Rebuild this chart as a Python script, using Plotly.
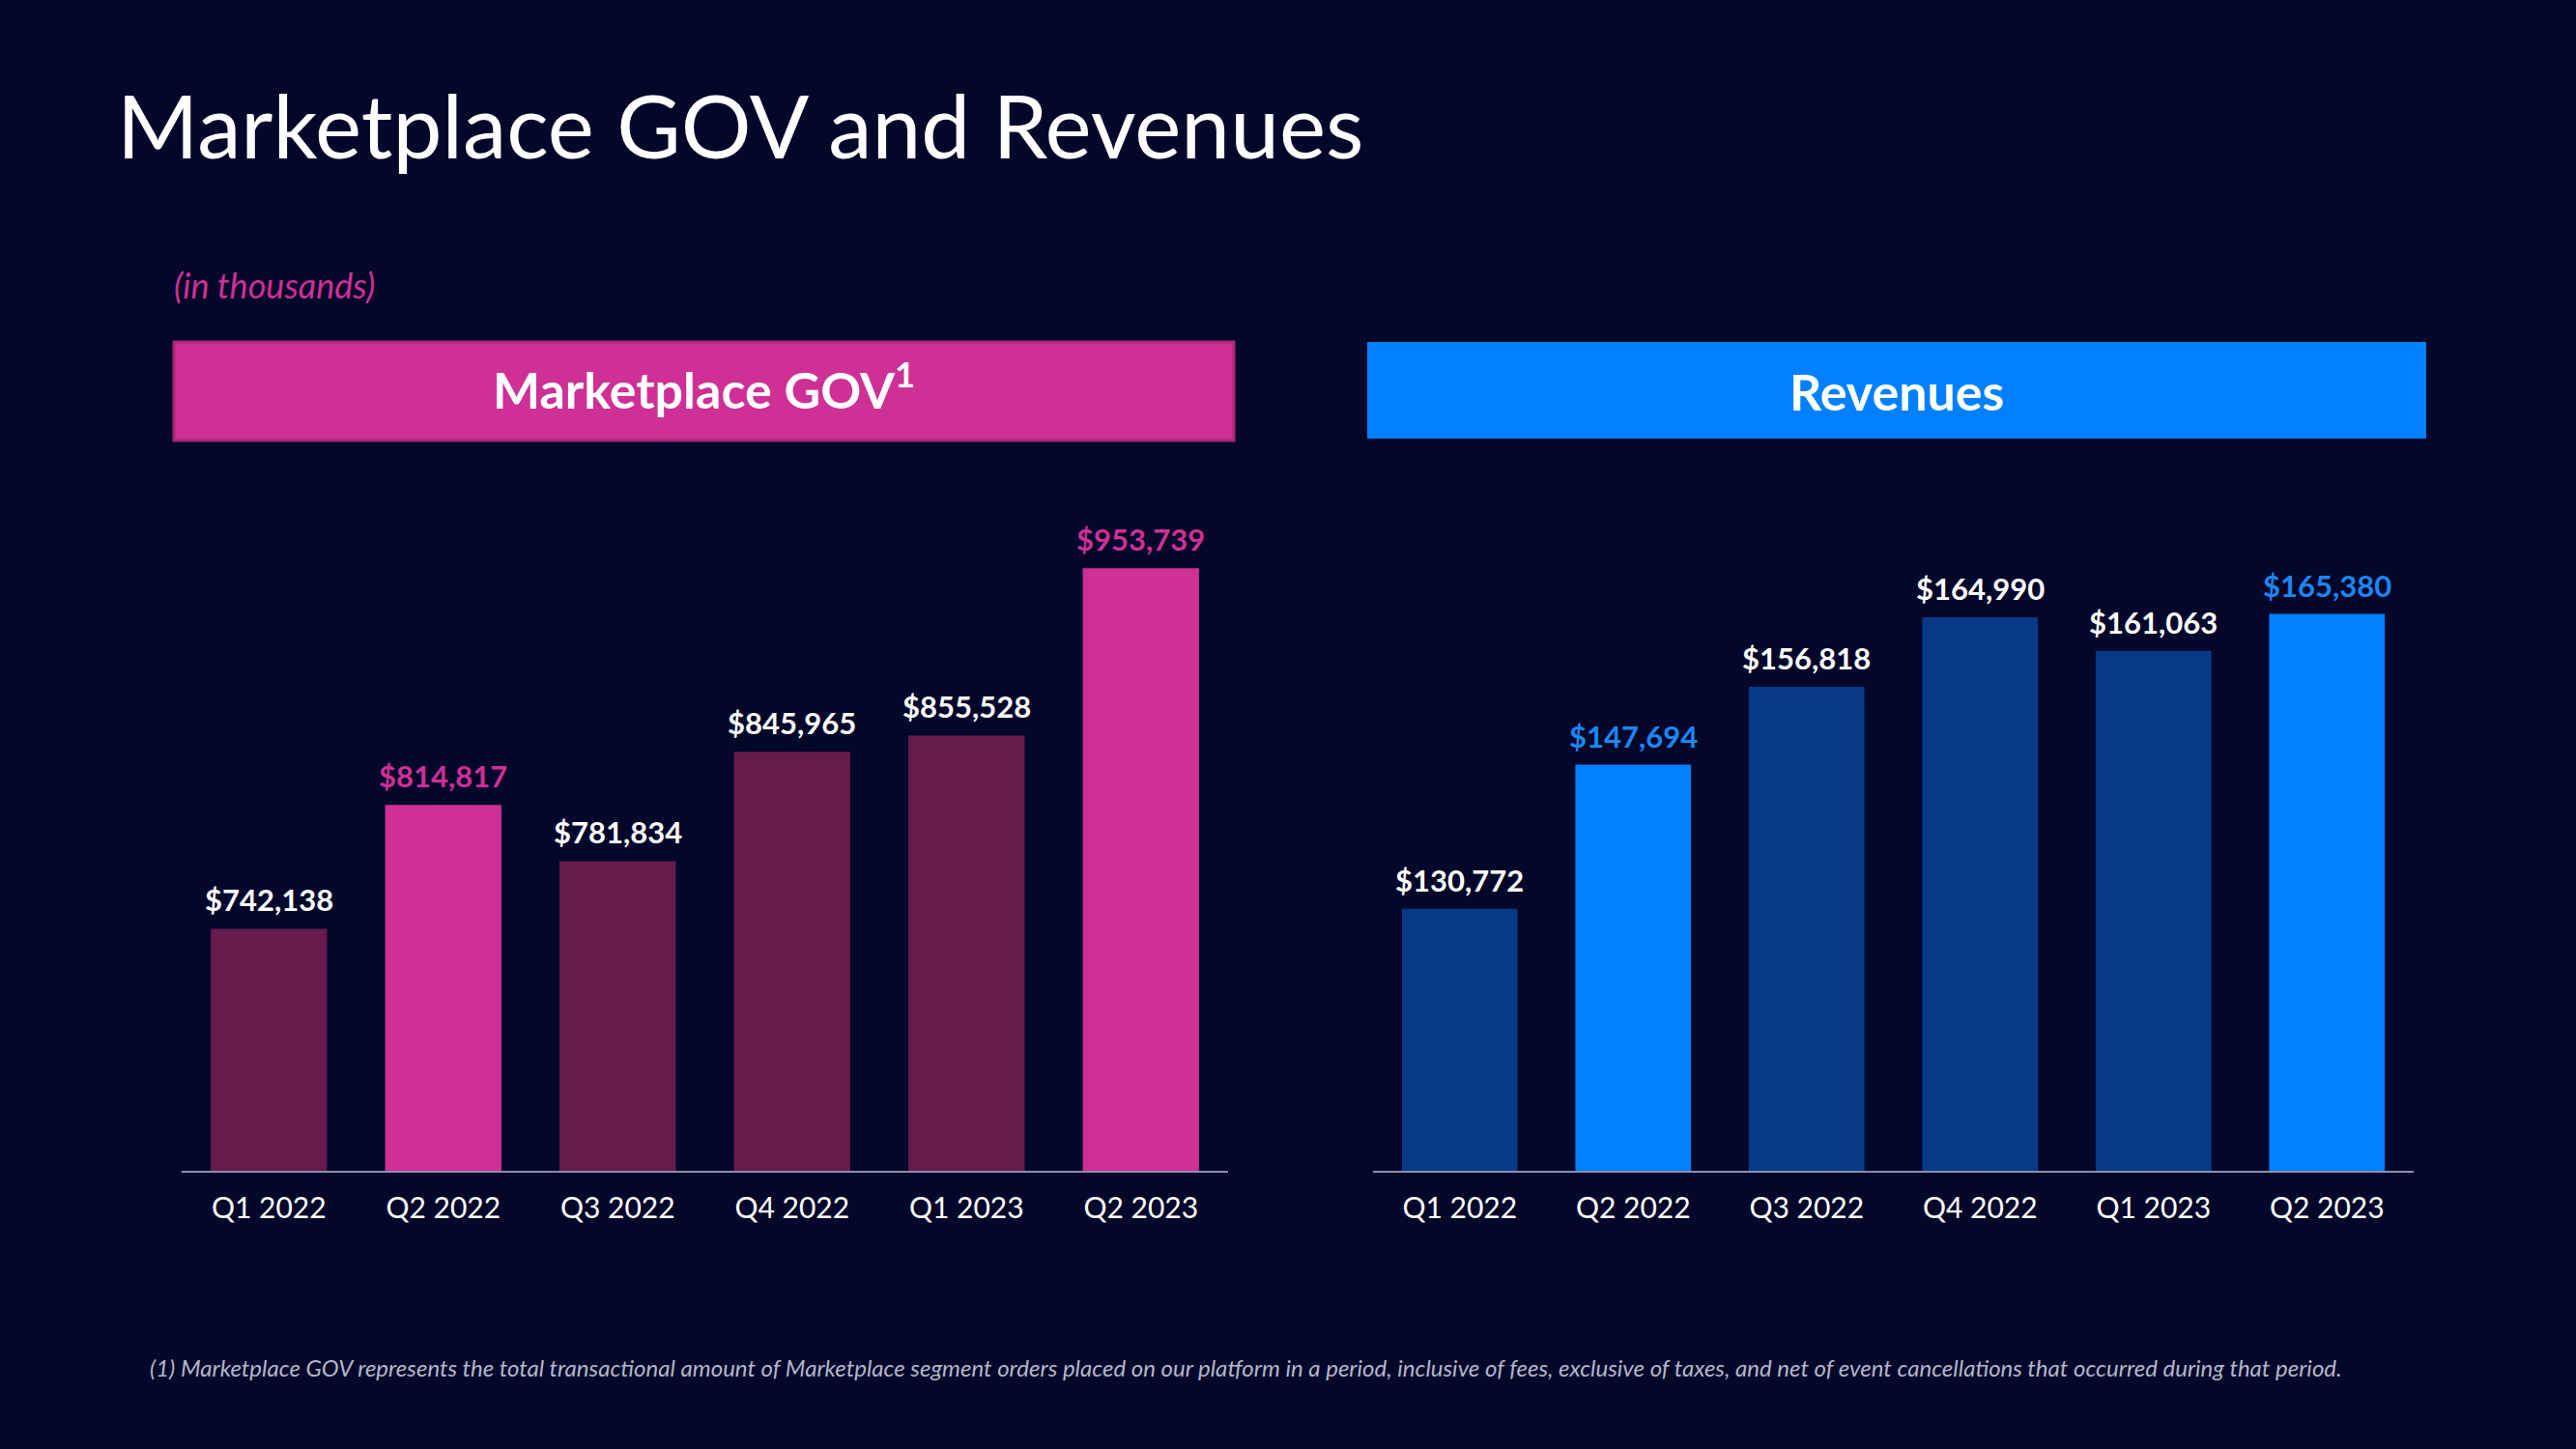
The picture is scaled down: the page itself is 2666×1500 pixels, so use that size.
import plotly.graph_objects as go

# ---------------- data ----------------
quarters = ["Q1 2022", "Q2 2022", "Q3 2022", "Q4 2022", "Q1 2023", "Q2 2023"]
gov_values = [742138, 814817, 781834, 845965, 855528, 953739]
revenue_values = [130772, 147694, 156818, 164990, 161063, 165380]
highlight = [False, True, False, False, False, True]

title_text = "Marketplace GOV and Revenues"
subtitle_text = "(in thousands)"
gov_header = "Marketplace GOV<sup>1</sup>"
rev_header = "Revenues"
footnote_text = ("(1) Marketplace GOV represents the total transactional amount of Marketplace segment "
                 "orders placed on our platform in a period, inclusive of fees, exclusive of taxes, and net "
                 "of event cancellations that occurred during that period.")

# ---------------- styles ----------------
BG = "#03082B"
PINK = "#CE3095"
PINK_DARK = "#671A4C"
BLUE = "#0080FF"
BLUE_DARK = "#063A88"
FONT = "Lato"

W, H = 2666, 1500

gov_colors = [PINK if h else PINK_DARK for h in highlight]
rev_colors = [BLUE if h else BLUE_DARK for h in highlight]
gov_label_colors = [PINK if h else "white" for h in highlight]
rev_label_colors = ["#1C86F2" if h else "white" for h in highlight]

fig = go.Figure()
fig.add_trace(go.Bar(x=quarters, y=gov_values, marker=dict(color=gov_colors, line=dict(width=0)),
                     xaxis="x", yaxis="y", hoverinfo="x+y"))
fig.add_trace(go.Bar(x=quarters, y=revenue_values, marker=dict(color=rev_colors, line=dict(width=0)),
                     xaxis="x2", yaxis="y2", hoverinfo="x+y"))

annotations = []
for q, v, c in zip(quarters, gov_values, gov_label_colors):
    annotations.append(dict(x=q, y=v, xref="x", yref="y", text=f"<b>${v:,}</b>", showarrow=False,
                            yanchor="middle", yshift=30, font=dict(family=FONT, size=31, color=c)))
for q, v, c in zip(quarters, revenue_values, rev_label_colors):
    annotations.append(dict(x=q, y=v, xref="x2", yref="y2", text=f"<b>${v:,}</b>", showarrow=False,
                            yanchor="middle", yshift=30, font=dict(family=FONT, size=31, color=c)))

# title, subtitle, headers, footnote
annotations.append(dict(x=119 / W, y=1 - 128 / H, xref="paper", yref="paper", text=title_text,
                        showarrow=False, xanchor="left", yanchor="middle",
                        font=dict(family=FONT, size=91, color="white")))
annotations.append(dict(x=178 / W, y=1 - 295 / H, xref="paper", yref="paper", text=f"<i>{subtitle_text}</i>",
                        showarrow=False, xanchor="left", yanchor="middle",
                        font=dict(family=FONT, size=36, color=PINK)))
annotations.append(dict(x=(180 + 1277) / 2 / W, y=1 - 400 / H, xref="paper", yref="paper",
                        text=f"<b>{gov_header}</b>", showarrow=False, xanchor="center", yanchor="middle",
                        font=dict(family=FONT, size=52, color="white")))
annotations.append(dict(x=(1415 + 2511) / 2 / W, y=1 - 405 / H, xref="paper", yref="paper",
                        text=f"<b>{rev_header}</b>", showarrow=False, xanchor="center", yanchor="middle",
                        font=dict(family=FONT, size=52, color="white")))
annotations.append(dict(x=153 / W, y=1 - 1415 / H, xref="paper", yref="paper", text=f"<i>{footnote_text}</i>",
                        showarrow=False, xanchor="left", yanchor="middle",
                        font=dict(family=FONT, size=24, color="#B4B6C8")))

shapes = [
    dict(type="rect", xref="paper", yref="paper", x0=180 / W, x1=1277 / W, y0=1 - 456 / H, y1=1 - 354 / H,
         fillcolor=PINK, line=dict(color="#A82679", width=3), layer="below"),
    dict(type="rect", xref="paper", yref="paper", x0=1415 / W, x1=2511 / W, y0=1 - 454 / H, y1=1 - 354 / H,
         fillcolor=BLUE, line=dict(width=0), layer="below"),
]

ybottom = 1 - 1212 / H
ytop = 1 - 512 / H

axis_common = dict(showgrid=False, zeroline=False, showline=True, linecolor="#8A8EAE", linewidth=2,
                   ticks="outside", ticklen=11, tickcolor="rgba(0,0,0,0)",
                   tickfont=dict(family=FONT, size=30, color="white"), fixedrange=True)

fig.update_layout(
    width=W, height=H,
    paper_bgcolor=BG, plot_bgcolor=BG,
    margin=dict(l=0, r=0, t=0, b=0),
    showlegend=False,
    bargap=1 / 3,
    xaxis=dict(domain=[188 / W, 1271 / W], anchor="y", **axis_common),
    xaxis2=dict(domain=[1421 / W, 2498 / W], anchor="y2", **axis_common),
    yaxis=dict(domain=[ybottom, ytop], range=[600000, 997000], visible=False, fixedrange=True),
    yaxis2=dict(domain=[ybottom, ytop], range=[100000, 179400], visible=False, fixedrange=True),
    annotations=annotations,
    shapes=shapes,
)

fig.write_html("out.html", config={"displayModeBar": False},
               post_script="document.body.style.margin='0';document.body.style.background='#03082B';"
                           "document.documentElement.style.background='#03082B';")
